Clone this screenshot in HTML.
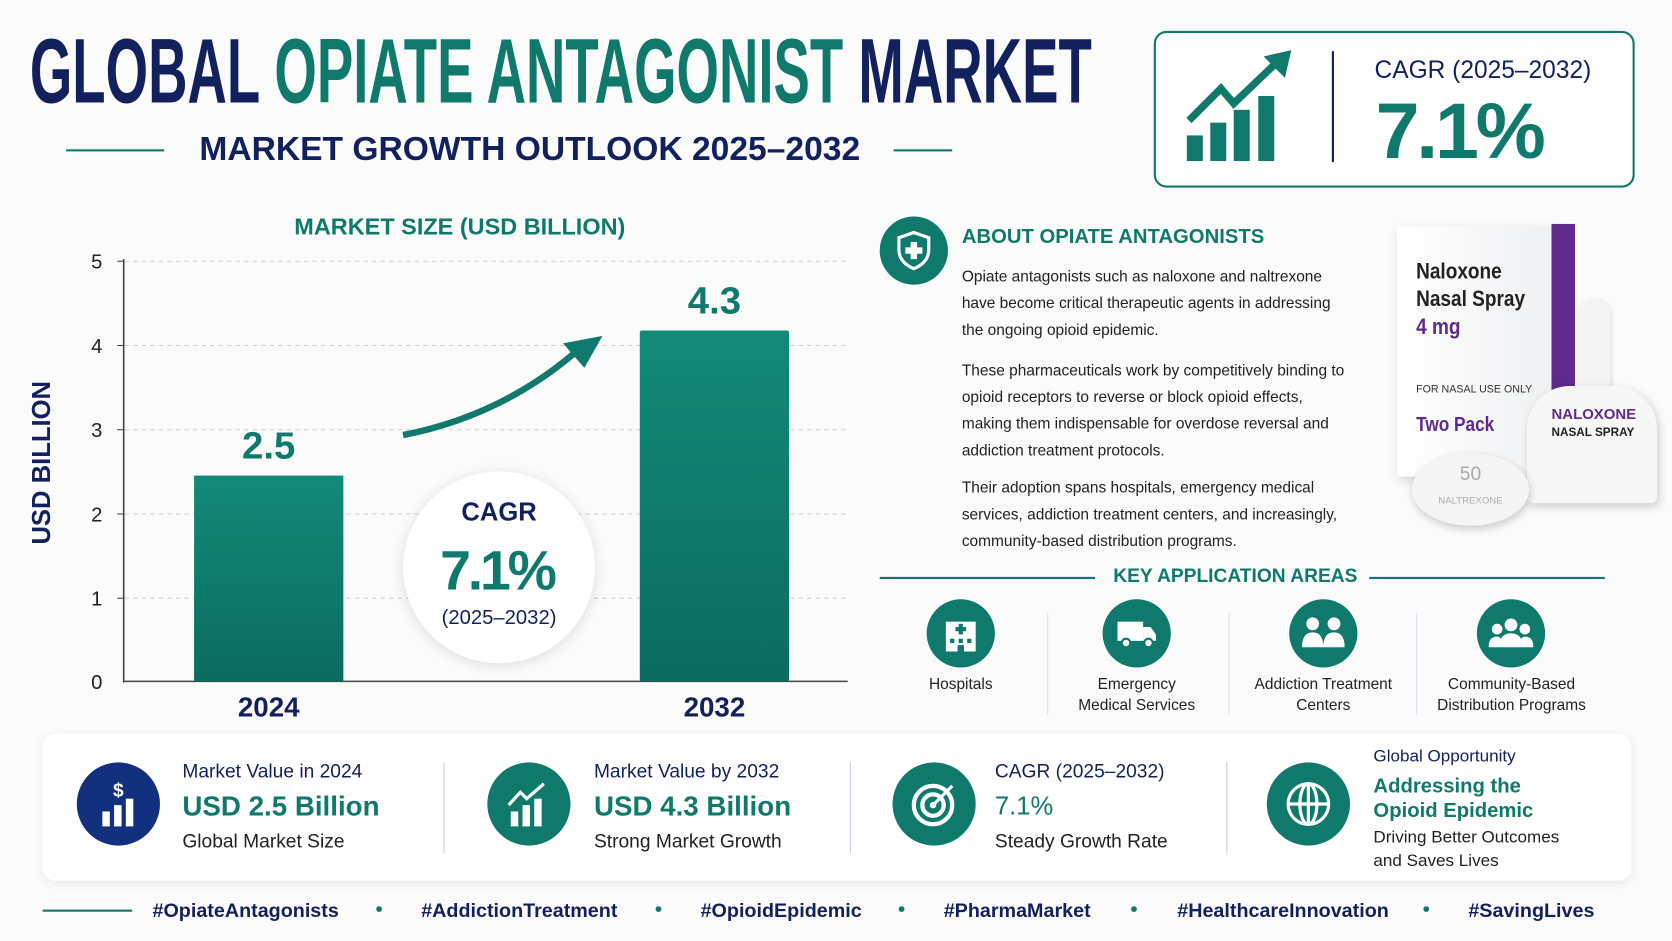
<!DOCTYPE html>
<html><head><meta charset="utf-8"><style>
html,body{margin:0;padding:0;background:#fbfbfc;overflow:hidden}
#w{width:1568px;height:883px;transform:scale(1.06633);transform-origin:0 0;position:relative;font-family:"Liberation Sans",sans-serif;background:#fbfbfc}
.a{position:absolute}
.navy{color:#13205e}.teal{color:#0f7a6b}
.circ{position:absolute;border-radius:50%;display:flex;align-items:center;justify-content:center}
.p{font-size:14.5px;color:#222;line-height:25px}
.app{font-size:14.5px;color:#222;text-align:center;line-height:20px}
.h{font-size:18.5px;font-weight:bold;white-space:nowrap}
</style></head><body><div id="w">
<!-- title -->
<div class="a" style="left:28px;top:22px;font-size:86px;font-weight:bold;transform:scaleX(0.595);transform-origin:0 0;white-space:nowrap;line-height:90px"><span class="navy">GLOBAL </span><span class="teal">OPIATE ANTAGONIST </span><span class="navy">MARKET</span></div>
<div class="a" style="left:62px;top:140px;width:92px;height:2px;background:#0f7a6b"></div>
<div class="a" style="left:838px;top:140px;width:55px;height:2px;background:#0f7a6b"></div>
<div class="a navy" style="left:187px;top:121px;font-size:31.5px;font-weight:bold;white-space:nowrap">MARKET GROWTH OUTLOOK 2025–2032</div>
<!-- cagr box -->
<div class="a" style="left:1082px;top:29px;width:447px;height:143px;border:2px solid #0f7a6b;border-radius:12px;background:#fff"></div>
<svg class="a" style="left:1105px;top:45px" width="110" height="110"><g fill="#0f7a6b"><rect x="8" y="82" width="15" height="24"/><rect x="30" y="70" width="15" height="36"/><rect x="52" y="58" width="15" height="48"/><rect x="75" y="45" width="15" height="61"/></g><polyline points="10,68 40,38 52,52 96,10" fill="none" stroke="#0f7a6b" stroke-width="7"/><polygon points="106,2 80,8 100,28" fill="#0f7a6b"/></svg>
<div class="a" style="left:1249px;top:48px;width:2px;height:104px;background:#13205e"></div>
<div class="a navy" style="left:1289px;top:52px;font-size:23px;white-space:nowrap">CAGR (2025–2032)</div>
<div class="a teal" style="left:1290px;top:80px;font-size:74px;font-weight:bold;letter-spacing:-3px">7.1%</div>
<!-- chart -->
<div class="a teal" style="left:276px;top:200px;font-size:22px;font-weight:bold">MARKET SIZE (USD BILLION)</div>
<div class="a navy" style="left:-40px;top:420px;font-size:24px;font-weight:bold;transform:rotate(-90deg);width:160px;text-align:center;white-space:nowrap">USD BILLION</div>
<svg class="a" style="left:0;top:0" width="800" height="690">
<g stroke="#c9cdd6" stroke-dasharray="4,4" stroke-width="1"><line x1="117" x2="795" y1="245" y2="245"/><line x1="117" x2="795" y1="324" y2="324"/><line x1="117" x2="795" y1="403" y2="403"/><line x1="117" x2="795" y1="482" y2="482"/><line x1="117" x2="795" y1="561" y2="561"/></g>
<line x1="116" y1="243" x2="116" y2="640" stroke="#444" stroke-width="1.5"/>
<line x1="116" y1="639" x2="795" y2="639" stroke="#444" stroke-width="1.5"/>
<g font-family="Liberation Sans" font-size="19" fill="#222" text-anchor="end"><text x="96" y="252">5</text><text x="96" y="331">4</text><text x="96" y="410">3</text><text x="96" y="489">2</text><text x="96" y="568">1</text><text x="96" y="646">0</text></g>
<g stroke="#444"><line x1="110" x2="116" y1="245" y2="245"/><line x1="110" x2="116" y1="324" y2="324"/><line x1="110" x2="116" y1="403" y2="403"/><line x1="110" x2="116" y1="482" y2="482"/><line x1="110" x2="116" y1="561" y2="561"/></g>
<defs><linearGradient id="g" x1="0" y1="0" x2="0" y2="1"><stop offset="0" stop-color="#138a78"/><stop offset="1" stop-color="#0b6c5f"/></linearGradient></defs>
<rect x="182" y="446" width="140" height="193" fill="url(#g)"/>
<rect x="600" y="310" width="140" height="329" fill="url(#g)" rx="2"/>
<g font-family="Liberation Sans" font-weight="bold" text-anchor="middle"><text x="252" y="430" font-size="36" fill="#0f7a6b">2.5</text><text x="670" y="294" font-size="36" fill="#0f7a6b">4.3</text><text x="252" y="672" font-size="26" fill="#13205e">2024</text><text x="670" y="672" font-size="26" fill="#13205e">2032</text></g>
<path d="M378,408 Q470,390 540,330" fill="none" stroke="#0f7a6b" stroke-width="6"/>
<polygon points="565,315 528,322 548,345" fill="#0f7a6b"/>
<circle cx="468" cy="532" r="90" fill="#fff" style="filter:drop-shadow(0 2px 6px rgba(0,0,0,.12))"/>
<g font-family="Liberation Sans" text-anchor="middle"><text x="468" y="488" font-size="24" fill="#13205e" font-weight="bold">CAGR</text><text x="466" y="553" font-size="52" fill="#0f7a6b" font-weight="bold" letter-spacing="-3">7.1%</text><text x="468" y="585" font-size="19" fill="#13205e">(2025–2032)</text></g>
</svg>
<!-- about -->
<div class="circ" style="left:825px;top:203px;width:64px;height:64px;background:#0f7a6b"><svg width="34" height="38"><path d="M17,2 L31,7 L31,18 Q31,30 17,36 Q3,30 3,18 L3,7 Z" fill="none" stroke="#fff" stroke-width="3"/><path d="M14,11h6v5h5v6h-5v5h-6v-5h-5v-6h5z" fill="#fff"/></svg></div>
<div class="a teal" style="left:902px;top:212px;font-size:19px;font-weight:bold">ABOUT OPIATE ANTAGONISTS</div>
<div class="a p" style="left:902px;top:248px;width:365px">Opiate antagonists such as naloxone and naltrexone have become critical therapeutic agents in addressing the ongoing opioid epidemic.</div>
<div class="a p" style="left:902px;top:336px;width:370px">These pharmaceuticals work by competitively binding to opioid receptors to reverse or block opioid effects, making them indispensable for overdose reversal and addiction treatment protocols.</div>
<div class="a p" style="left:902px;top:446px;width:375px">Their adoption spans hospitals, emergency medical services, addiction treatment centers, and increasingly, community-based distribution programs.</div>
<!-- product image -->
<div class="a" style="left:1310px;top:212px;width:150px;height:235px;background:linear-gradient(90deg,#fff,#eef0f2);box-shadow:2px 4px 10px rgba(0,0,0,.15)"></div>
<div class="a" style="left:1455px;top:210px;width:22px;height:235px;background:#5f2a8c"></div>
<div class="a" style="left:1328px;top:242px;font-size:21px;color:#222;line-height:26px;font-weight:bold;transform:scaleX(.85);transform-origin:0 0">Naloxone<br>Nasal Spray<br><span style="color:#5f2a8c">4 mg</span></div>
<div class="a" style="left:1328px;top:360px;font-size:10px;color:#333">FOR NASAL USE ONLY</div>
<div class="a" style="left:1328px;top:388px;font-size:19px;color:#5f2a8c;font-weight:bold;transform:scaleX(.85);transform-origin:0 0">Two Pack</div>
<div class="a" style="left:1480px;top:280px;width:30px;height:100px;border-radius:15px 15px 4px 4px;background:#f4f4f4;box-shadow:1px 2px 5px rgba(0,0,0,.15)"></div>
<div class="a" style="left:1432px;top:362px;width:122px;height:110px;border-radius:40px 40px 6px 6px;background:#f7f7f7;box-shadow:2px 3px 8px rgba(0,0,0,.18)"></div>
<div class="a" style="left:1455px;top:380px;font-size:14px;font-weight:bold;color:#5f2a8c;line-height:16px">NALOXONE<br><span style="color:#222;font-size:11px">NASAL SPRAY</span></div>
<div class="a" style="left:1324px;top:425px;width:110px;height:68px;border-radius:50%;background:#f5f5f5;box-shadow:1px 3px 8px rgba(0,0,0,.2);text-align:center;color:#aaa;font-size:18px;line-height:22px;padding-top:8px;box-sizing:border-box">50<br><span style="font-size:9px">NALTREXONE</span></div>
<!-- key application -->
<div class="a" style="left:825px;top:541px;width:202px;height:2px;background:#0f7a6b"></div>
<div class="a" style="left:1284px;top:541px;width:221px;height:2px;background:#0f7a6b"></div>
<div class="a teal" style="left:1044px;top:530px;font-size:18px;font-weight:bold">KEY APPLICATION AREAS</div>
<div class="circ" style="left:869px;top:562px;width:64px;height:64px;background:#0f7a6b"><svg width="36" height="34"><rect x="4" y="6" width="28" height="28" fill="#fff"/><g fill="#0f7a6b"><rect x="16" y="8" width="4" height="10"/><rect x="13" y="11" width="10" height="4"/><rect x="8" y="22" width="4" height="4"/><rect x="16" y="22" width="4" height="4"/><rect x="24" y="22" width="4" height="4"/><rect x="15" y="28" width="6" height="6"/></g></svg></div>
<div class="circ" style="left:1034px;top:562px;width:64px;height:64px;background:#0f7a6b"><svg width="40" height="30"><rect x="2" y="4" width="24" height="18" fill="#fff"/><path d="M26,9h7l5,7v6h-12z" fill="#fff"/><circle cx="10" cy="24" r="4" fill="#fff" stroke="#0f7a6b" stroke-width="2"/><circle cx="31" cy="24" r="4" fill="#fff" stroke="#0f7a6b" stroke-width="2"/></svg></div>
<div class="circ" style="left:1209px;top:562px;width:64px;height:64px;background:#0f7a6b"><svg width="40" height="34"><circle cx="10" cy="8" r="6" fill="#fff"/><circle cx="30" cy="8" r="6" fill="#fff"/><path d="M0,30 Q0,16 10,16 Q20,16 20,30z M20,30 Q20,16 30,16 Q40,16 40,30z" fill="#fff"/></svg></div>
<div class="circ" style="left:1385px;top:562px;width:64px;height:64px;background:#0f7a6b"><svg width="42" height="30"><circle cx="21" cy="7" r="6" fill="#fff"/><circle cx="8" cy="11" r="5" fill="#fff"/><circle cx="34" cy="11" r="5" fill="#fff"/><path d="M10,28 Q10,15 21,15 Q32,15 32,28z M0,28 Q0,18 8,18 Q13,18 13,28z M29,28 Q29,18 34,18 Q42,18 42,28z" fill="#fff"/></svg></div>
<div class="a" style="left:982px;top:575px;width:1px;height:95px;background:#dde"></div>
<div class="a" style="left:1152px;top:575px;width:1px;height:95px;background:#dde"></div>
<div class="a" style="left:1328px;top:575px;width:1px;height:95px;background:#dde"></div>
<div class="a app" style="left:851px;top:632px;width:100px">Hospitals</div>
<div class="a app" style="left:990px;top:632px;width:152px">Emergency<br>Medical Services</div>
<div class="a app" style="left:1160px;top:632px;width:162px">Addiction Treatment<br>Centers</div>
<div class="a app" style="left:1335px;top:632px;width:165px">Community-Based<br>Distribution Programs</div>
<!-- bottom stats -->
<div class="a" style="left:40px;top:688px;width:1490px;height:138px;background:#fff;border-radius:12px;box-shadow:0 2px 10px rgba(0,0,0,.08)"></div>
<div class="circ" style="left:72px;top:715px;width:78px;height:78px;background:#13307f"><svg width="40" height="46"><text x="20" y="16" fill="#fff" font-size="18" font-weight="bold" text-anchor="middle" font-family="Liberation Sans">$</text><rect x="5" y="30" width="7" height="14" fill="#fff"/><rect x="16" y="24" width="7" height="20" fill="#fff"/><rect x="27" y="18" width="7" height="26" fill="#fff"/></svg></div>
<div class="circ" style="left:457px;top:715px;width:78px;height:78px;background:#0f7a6b"><svg width="44" height="46"><rect x="5" y="30" width="7" height="14" fill="#fff"/><rect x="16" y="24" width="7" height="20" fill="#fff"/><rect x="27" y="18" width="7" height="26" fill="#fff"/><polyline points="3,24 14,12 20,18 36,4" fill="none" stroke="#fff" stroke-width="3"/></svg></div>
<div class="circ" style="left:837px;top:715px;width:78px;height:78px;background:#0f7a6b"><svg width="46" height="46"><circle cx="22" cy="24" r="18" fill="none" stroke="#fff" stroke-width="4"/><circle cx="22" cy="24" r="10" fill="none" stroke="#fff" stroke-width="4"/><circle cx="22" cy="24" r="3" fill="#fff"/><line x1="22" y1="24" x2="40" y2="6" stroke="#fff" stroke-width="3"/></svg></div>
<div class="circ" style="left:1188px;top:715px;width:78px;height:78px;background:#0f7a6b"><svg width="46" height="46"><circle cx="23" cy="23" r="19" fill="none" stroke="#fff" stroke-width="3"/><ellipse cx="23" cy="23" rx="8" ry="19" fill="none" stroke="#fff" stroke-width="3"/><line x1="4" y1="23" x2="42" y2="23" stroke="#fff" stroke-width="3"/><line x1="23" y1="4" x2="23" y2="42" stroke="#fff" stroke-width="3"/></svg></div>
<div class="a" style="left:416px;top:715px;width:1px;height:85px;background:#ccd"></div>
<div class="a" style="left:797px;top:715px;width:1px;height:85px;background:#ccd"></div>
<div class="a" style="left:1150px;top:715px;width:1px;height:85px;background:#ccd"></div>
<div class="a" style="left:171px;top:713px;font-size:18px;color:#13205e">Market Value in 2024</div>
<div class="a teal" style="left:171px;top:741px;font-size:26px;font-weight:bold">USD 2.5 Billion</div>
<div class="a" style="left:171px;top:779px;font-size:18px;color:#222">Global Market Size</div>
<div class="a" style="left:557px;top:713px;font-size:18px;color:#13205e">Market Value by 2032</div>
<div class="a teal" style="left:557px;top:741px;font-size:26px;font-weight:bold">USD 4.3 Billion</div>
<div class="a" style="left:557px;top:779px;font-size:18px;color:#222">Strong Market Growth</div>
<div class="a" style="left:933px;top:713px;font-size:18px;color:#13205e">CAGR (2025–2032)</div>
<div class="a teal" style="left:933px;top:743px;font-size:24px">7.1%</div>
<div class="a" style="left:933px;top:779px;font-size:18px;color:#222">Steady Growth Rate</div>
<div class="a" style="left:1288px;top:701px;font-size:16px;color:#13205e">Global Opportunity</div>
<div class="a teal" style="left:1288px;top:726px;font-size:19px;font-weight:bold;line-height:23px">Addressing the<br>Opioid Epidemic</div>
<div class="a" style="left:1288px;top:775px;font-size:16px;color:#222;line-height:22px">Driving Better Outcomes<br>and Saves Lives</div>
<!-- hashtags -->
<div class="a" style="left:40px;top:853px;width:84px;height:2px;background:#0f7a6b"></div>
<div class="a navy h" style="left:143px;top:843px">#OpiateAntagonists</div>
<div class="a navy h" style="left:395px;top:843px">#AddictionTreatment</div>
<div class="a navy h" style="left:657px;top:843px">#OpioidEpidemic</div>
<div class="a navy h" style="left:885px;top:843px">#PharmaMarket</div>
<div class="a navy h" style="left:1104px;top:843px">#HealthcareInnovation</div>
<div class="a navy h" style="left:1377px;top:843px">#SavingLives</div>
<div class="a teal" style="left:352px;top:842px;font-size:20px">•</div>
<div class="a teal" style="left:614px;top:842px;font-size:20px">•</div>
<div class="a teal" style="left:842px;top:842px;font-size:20px">•</div>
<div class="a teal" style="left:1060px;top:842px;font-size:20px">•</div>
<div class="a teal" style="left:1334px;top:842px;font-size:20px">•</div>
</div></body></html>
